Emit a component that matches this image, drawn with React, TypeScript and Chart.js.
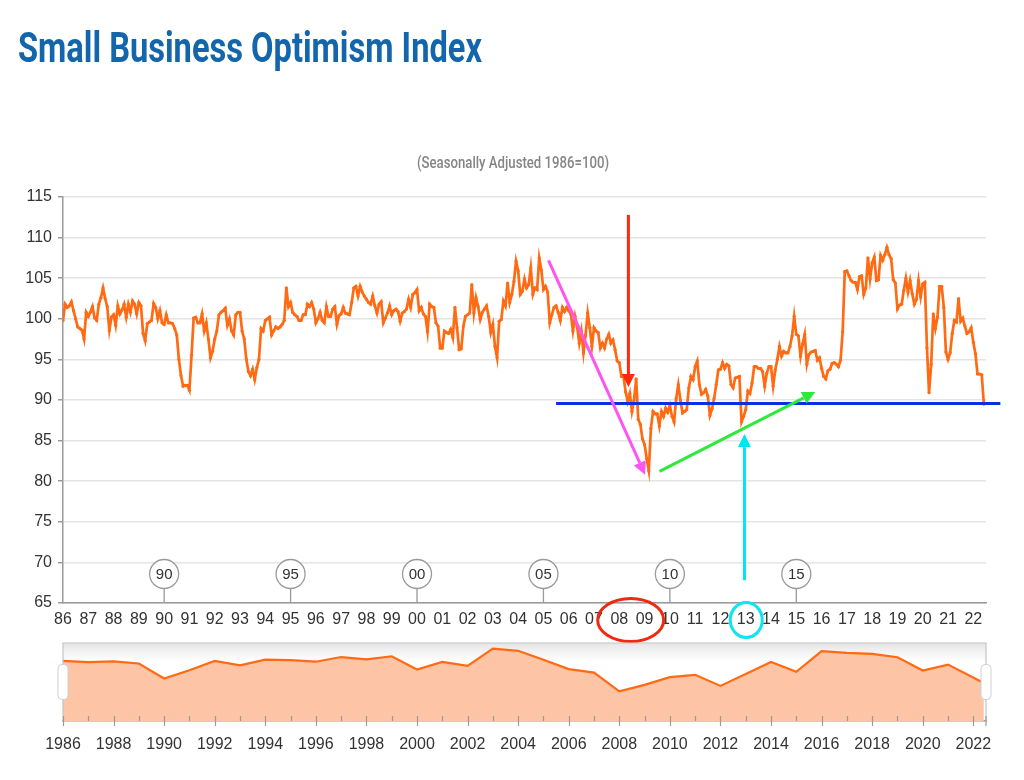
import React, { useEffect, useLayoutEffect, useRef } from "react";
import { Chart, registerables } from "chart.js";

Chart.register(...registerables);

// ---------------- data (monthly index values, seasonally adjusted, 1986=100) ----------------
const startYear = 1986;

// Jan 1986 - Dec 1995
const values1986to1995 = [
  99.8, 101.8, 101.4, 101.6, 102.1, 101.0, 100.0, 99.0, 98.8, 98.6, 97.5, 100.8,
  100.3, 100.8, 101.5, 100.1, 99.8, 101.8, 102.6, 103.8, 102.5, 101.5, 98.6, 100.2,
  100.5, 99.2, 101.6, 100.6, 101.1, 101.8, 100.2, 101.8, 100.8, 102.2, 101.8, 100.6,
  102.0, 101.6, 98.2, 97.3, 99.4, 99.6, 99.8, 101.9, 101.4, 100.0, 101.0, 99.5,
  99.3, 100.5, 99.5, 99.5, 99.4, 98.8, 98.0, 95.0, 93.0, 91.7, 91.8, 91.8,
  91.2, 95.5, 100.1, 100.2, 99.5, 99.5, 100.6, 98.5, 99.5, 97.5, 95.2, 96.0,
  97.5, 98.5, 100.5, 100.8, 101.0, 101.3, 99.2, 100.0, 98.5, 98.0, 100.5, 100.8,
  100.8, 98.5, 97.5, 95.0, 93.5, 93.0, 93.8, 92.5, 94.0, 95.0, 98.8, 98.5,
  99.8, 100.0, 100.2, 98.0, 98.5, 99.0, 98.8, 99.0, 99.3, 99.8, 103.8, 101.5,
  102.0, 100.8, 100.5, 100.3, 99.8, 99.8, 100.5, 100.5, 101.8, 101.5, 102.0, 101.2,
];

// Jan 1996 - Dec 2005
const values1996to2005 = [
  99.5, 100.0, 100.8, 99.8, 99.5, 101.5, 100.3, 100.3, 101.2, 101.5, 99.3, 100.4,
  100.6, 101.4, 100.7, 100.6, 100.5, 102.0, 103.8, 104.0, 102.8, 104.0, 103.3, 102.8,
  102.4, 102.0, 101.8, 102.8, 101.6, 100.7, 101.8, 102.1, 99.5, 100.1, 100.7, 101.6,
  100.5, 101.0, 101.2, 100.9, 99.7, 100.7, 100.9, 101.2, 102.4, 101.4, 103.0, 103.2,
  103.6, 101.0, 101.4, 100.6, 100.3, 98.4, 101.8, 101.5, 101.4, 99.5, 99.1, 96.4,
  96.4, 98.5, 98.3, 98.2, 98.7, 97.7, 101.4, 98.9, 96.2, 96.3, 99.1, 100.3,
  100.5, 100.7, 104.2, 100.7, 102.6, 101.5, 99.9, 100.8, 101.2, 101.6, 100.3, 98.3,
  99.3, 96.6, 95.2, 99.7, 99.9, 102.2, 101.6, 104.4, 102.0, 103.0, 104.6, 107.1,
  105.9, 103.0, 103.4, 104.9, 103.8, 104.2, 106.3, 103.0, 103.8, 103.6, 107.5, 106.0,
  103.6, 104.0, 103.3, 99.5, 100.5, 101.4, 101.6, 100.8, 99.8, 101.4, 100.9, 101.4,
];

// Jan 2006 - Dec 2015
const values2006to2015 = [
  101.0, 100.6, 98.5, 100.3, 99.0, 97.0, 98.5, 95.8, 98.0, 100.7, 98.9, 96.6,
  98.9, 98.5, 98.3, 96.4, 97.0, 96.4, 97.5, 98.1, 97.0, 97.4, 96.2, 94.8,
  94.6, 92.9, 92.9, 91.0, 89.8, 90.8, 88.6, 90.0, 92.6, 87.6, 87.0, 85.2,
  84.5, 82.8, 81.3, 86.5, 88.6, 88.3, 88.3, 86.8, 88.6, 88.0, 89.0, 88.5,
  89.3, 88.0, 87.3, 90.2, 91.9, 90.0, 88.4, 88.6, 88.8, 91.5, 92.9, 92.5,
  94.1, 94.8, 91.9, 90.7, 90.9, 91.3, 90.5, 88.1, 88.9, 90.2, 91.9, 93.7,
  93.8, 94.6, 93.9, 94.4, 94.2, 91.9, 91.5, 92.7, 92.8, 92.9, 87.3, 88.0,
  88.8, 91.1, 90.8, 92.1, 94.1, 94.1, 93.9, 93.9, 93.5, 91.7, 93.3, 94.1,
  94.1, 91.7, 93.7, 95.0, 96.6, 95.4, 96.0, 95.8, 95.8, 96.6, 97.9, 100.3,
  98.1, 97.9, 95.4, 96.9, 98.1, 94.4, 95.6, 95.9, 96.0, 96.1, 94.9, 95.2,
];

// Jan 2016 - Jun 2022
const values2016to2022 = [
  93.9, 92.9, 92.6, 93.6, 93.8, 94.5, 94.6, 94.4, 94.1, 94.9, 98.4, 105.8,
  105.9, 105.3, 104.7, 104.5, 104.5, 103.6, 105.2, 105.3, 103.0, 103.8, 107.5, 104.9,
  106.9, 107.6, 104.7, 104.8, 107.8, 107.2, 107.9, 108.8, 107.9, 107.4, 104.8, 104.4,
  101.2, 101.7, 101.8, 103.5, 105.0, 103.3, 104.7, 103.1, 101.8, 102.4, 104.7, 102.7,
  104.3, 104.5, 96.4, 90.9, 94.4, 100.6, 98.8, 100.2, 104.0, 104.0, 101.4, 95.9,
  95.0, 95.8, 98.2, 99.8, 99.6, 102.5, 99.7, 100.1, 99.1, 98.2, 98.4, 98.9,
  97.1, 95.7, 93.2, 93.2, 93.1, 89.5,
];

// y axis range / ticks
const yMin = 65;
const yMax = 115;
const yStep = 5;

// flags sitting on the x axis
const flagYears = [1990, 1995, 2000, 2005, 2010, 2015];
const flagLabels = ["90", "95", "00", "05", "10", "15"];

// hand-drawn annotations, in data coordinates (year, index value)
const arrowNotes = [
  { x1: 2008.36, y1: 112.8, x2: 2008.36, y2: 91.6, color: "#ff2a0a" },
  { x1: 2005.2, y1: 107.2, x2: 2009.02, y2: 80.8, color: "#ff55f0" },
  { x1: 2009.59, y1: 81.2, x2: 2015.75, y2: 91.0, color: "#2ee83c" },
  { x1: 2012.95, y1: 67.8, x2: 2012.95, y2: 85.8, color: "#00e6f0" },
];
const supportLevel = { from: 2005.5, to: 2023.07, value: 89.57, color: "#0a2fe0" };
const circledYears = [
  { year: 2008.45, rx: 33, ry: 21.5, color: "#f02a10" },
  { year: 2013.02, rx: 16, ry: 17.5, color: "#10e4f0" },
];

// ---------------- derived tables for the library ----------------
const monthly = [...values1986to1995, ...values1996to2005, ...values2006to2015, ...values2016to2022];
const points = monthly.map((v, i) => ({ x: startYear + i / 12, y: v }));
const lastX = startYear + (monthly.length - 1) / 12;
const endYear = Math.floor(lastX);
const xMax = lastX + 0.085;
const yearTicks: number[] = [];
for (let yr = startYear; yr <= endYear; yr++) yearTicks.push(yr);

// navigator: year-end close plotted at each year, then the latest value
const navPoints: { x: number; y: number }[] = [];
for (let yr = startYear; yr <= endYear; yr++) {
  const idx = (yr - startYear) * 12 + 11;
  if (idx < monthly.length) navPoints.push({ x: yr, y: monthly[idx] });
}
navPoints.push({ x: lastX, y: monthly[monthly.length - 1] });

const LINE = "#ff6a13";
const NAV_FILL = "#fdc4a6";
const AXIS = "#9a9a9a";
const FONT = '"Liberation Sans", Arial, Helvetica, sans-serif';

Chart.defaults.font.family = FONT;
Chart.defaults.color = "#333333";

function drawArrow(ctx: CanvasRenderingContext2D, x1: number, y1: number, x2: number, y2: number, color: string) {
  const headLen = 13;
  const headHalf = 6.5;
  const ang = Math.atan2(y2 - y1, x2 - x1);
  const bx = x2 - headLen * Math.cos(ang);
  const by = y2 - headLen * Math.sin(ang);
  ctx.strokeStyle = color;
  ctx.lineWidth = 3;
  ctx.lineCap = "butt";
  ctx.beginPath();
  ctx.moveTo(x1, y1);
  ctx.lineTo(bx, by);
  ctx.stroke();
  ctx.fillStyle = color;
  ctx.beginPath();
  ctx.moveTo(x2, y2);
  ctx.lineTo(bx + headHalf * Math.sin(ang), by - headHalf * Math.cos(ang));
  ctx.lineTo(bx - headHalf * Math.sin(ang), by + headHalf * Math.cos(ang));
  ctx.closePath();
  ctx.fill();
}

const mainOverlay = {
  id: "mainOverlay",
  afterDraw(chart: any) {
    const { ctx, chartArea, scales } = chart;
    const xs = scales.x;
    const ys = scales.y;
    ctx.save();

    // flags
    flagYears.forEach((yr, i) => {
      const px = xs.getPixelForValue(yr);
      const r = 14.5;
      const cy = chartArea.bottom - 29;
      ctx.strokeStyle = AXIS;
      ctx.lineWidth = 1.3;
      ctx.beginPath();
      ctx.moveTo(px, cy + r);
      ctx.lineTo(px, chartArea.bottom);
      ctx.stroke();
      ctx.beginPath();
      ctx.arc(px, cy, r, 0, Math.PI * 2);
      ctx.fillStyle = "#ffffff";
      ctx.fill();
      ctx.stroke();
      ctx.fillStyle = "#333333";
      ctx.font = `15px ${FONT}`;
      ctx.textAlign = "center";
      ctx.textBaseline = "middle";
      ctx.fillText(flagLabels[i], px, cy + 1);
    });

    // horizontal support level
    const ly = ys.getPixelForValue(supportLevel.value);
    ctx.strokeStyle = supportLevel.color;
    ctx.lineWidth = 3;
    ctx.beginPath();
    ctx.moveTo(xs.getPixelForValue(supportLevel.from), ly);
    ctx.lineTo(xs.getPixelForValue(supportLevel.to), ly);
    ctx.stroke();

    // arrows
    arrowNotes.forEach((a) => {
      drawArrow(
        ctx,
        xs.getPixelForValue(a.x1),
        ys.getPixelForValue(a.y1),
        xs.getPixelForValue(a.x2),
        ys.getPixelForValue(a.y2),
        a.color
      );
    });

    // circled axis labels
    circledYears.forEach((c) => {
      const cx = xs.getPixelForValue(c.year);
      const cy = xs.top + 17;
      ctx.strokeStyle = c.color;
      ctx.lineWidth = 3;
      ctx.beginPath();
      ctx.ellipse(cx, cy, c.rx, c.ry, 0, 0, Math.PI * 2);
      ctx.stroke();
    });

    ctx.restore();
  },
};

function roundRect(ctx: CanvasRenderingContext2D, x: number, y: number, w: number, h: number, r: number) {
  ctx.beginPath();
  ctx.moveTo(x + r, y);
  ctx.lineTo(x + w - r, y);
  ctx.quadraticCurveTo(x + w, y, x + w, y + r);
  ctx.lineTo(x + w, y + h - r);
  ctx.quadraticCurveTo(x + w, y + h, x + w - r, y + h);
  ctx.lineTo(x + r, y + h);
  ctx.quadraticCurveTo(x, y + h, x, y + h - r);
  ctx.lineTo(x, y + r);
  ctx.quadraticCurveTo(x, y, x + r, y);
  ctx.closePath();
}

const navOverlay = {
  id: "navOverlay",
  beforeDatasetsDraw(chart: any) {
    const { ctx, chartArea: a } = chart;
    ctx.save();
    const g = ctx.createLinearGradient(0, a.top, 0, a.top + 18);
    g.addColorStop(0, "#e6e6e6");
    g.addColorStop(1, "#ffffff");
    ctx.fillStyle = g;
    ctx.fillRect(a.left, a.top, a.right - a.left, 18);
    ctx.restore();
  },
  afterDraw(chart: any) {
    const { ctx, chartArea: a, scales } = chart;
    const xs = scales.x;
    ctx.save();
    // outline
    ctx.strokeStyle = "#c4c4c4";
    ctx.lineWidth = 1.2;
    ctx.beginPath();
    ctx.moveTo(a.left, a.bottom);
    ctx.lineTo(a.left, a.top);
    ctx.lineTo(a.right, a.top);
    ctx.lineTo(a.right, a.bottom);
    ctx.stroke();
    // year ticks
    ctx.strokeStyle = AXIS;
    ctx.lineWidth = 1.2;
    yearTicks.forEach((yr) => {
      const px = Math.round(xs.getPixelForValue(yr)) + 0.5;
      ctx.beginPath();
      ctx.moveTo(px, a.bottom - 5);
      ctx.lineTo(px, a.bottom + ((yr - startYear) % 2 === 0 ? 5 : 0));
      ctx.stroke();
    });
    ctx.beginPath();
    ctx.moveTo(a.right, a.bottom - 5);
    ctx.lineTo(a.right, a.bottom + 5);
    ctx.stroke();
    // handles
    const hw = 10;
    const hh = 35;
    const cy = (a.top + a.bottom) / 2;
    [a.left, a.right].forEach((hx) => {
      roundRect(ctx, hx - hw / 2, cy - hh / 2, hw, hh, 4);
      ctx.fillStyle = "#ffffff";
      ctx.fill();
      ctx.strokeStyle = "#d0d0d0";
      ctx.lineWidth = 1;
      ctx.stroke();
    });
    ctx.restore();
  },
};

function FittedText(props: { text: string; left: number; top: number; width: number; style: React.CSSProperties }) {
  const ref = useRef<HTMLSpanElement>(null);
  useLayoutEffect(() => {
    const el = ref.current;
    if (!el) return;
    el.style.transform = "none";
    const w = el.getBoundingClientRect().width;
    if (w > 0) el.style.transform = `scaleX(${props.width / w})`;
  }, [props.text, props.width]);
  return (
    <span
      ref={ref}
      style={{
        position: "absolute",
        left: props.left,
        top: props.top,
        whiteSpace: "nowrap",
        display: "inline-block",
        transformOrigin: "0 0",
        ...props.style,
      }}
    >
      {props.text}
    </span>
  );
}

export default function App() {
  const mainRef = useRef<HTMLCanvasElement>(null);
  const navRef = useRef<HTMLCanvasElement>(null);

  useEffect(() => {
    if (!mainRef.current || !navRef.current) return;

    const main = new Chart(mainRef.current, {
      type: "line",
      data: {
        datasets: [
          {
            data: points,
            borderColor: LINE,
            backgroundColor: LINE,
            borderWidth: 2.7,
            pointRadius: 1.6,
            pointBorderWidth: 0,
            pointHoverRadius: 0,
            tension: 0,
            fill: false,
          },
        ],
      },
      options: {
        responsive: false,
        animation: false,
        events: [],
        layout: { padding: { left: 0, top: 197, right: 38, bottom: 27 } },
        plugins: { legend: { display: false }, tooltip: { enabled: false } },
        scales: {
          x: {
            type: "linear",
            min: startYear,
            max: xMax,
            afterFit: (s: any) => {
              s.height = 30;
            },
            afterBuildTicks: (s: any) => {
              s.ticks = yearTicks.map((v) => ({ value: v }));
            },
            ticks: {
              autoSkip: false,
              maxRotation: 0,
              padding: 7,
              font: { size: 16 },
              color: "#333333",
              callback: (v: any) => String(Number(v) % 100).padStart(2, "0"),
            },
            grid: { display: false, drawTicks: false },
            border: { display: true, color: AXIS, width: 1.5 },
          },
          y: {
            min: yMin,
            max: yMax,
            afterFit: (s: any) => {
              s.width = 63;
            },
            ticks: { stepSize: yStep, padding: 6, font: { size: 16 }, color: "#333333" },
            grid: { color: "#e4e4e4", lineWidth: 1.5, tickColor: AXIS, tickLength: 5 },
            border: { display: true, color: AXIS, width: 1.5 },
          },
        },
      },
      plugins: [mainOverlay],
    } as any);

    const nav = new Chart(navRef.current, {
      type: "line",
      data: {
        datasets: [
          {
            data: navPoints,
            borderColor: LINE,
            backgroundColor: NAV_FILL,
            borderWidth: 2.2,
            pointRadius: 0,
            tension: 0,
            fill: "start",
          },
        ],
      },
      options: {
        responsive: false,
        animation: false,
        events: [],
        layout: { padding: { left: 63, top: 13, right: 38, bottom: 29 } },
        plugins: { legend: { display: false }, tooltip: { enabled: false } },
        scales: {
          x: {
            type: "linear",
            min: startYear,
            max: xMax,
            afterFit: (s: any) => {
              s.height = 30;
            },
            afterBuildTicks: (s: any) => {
              s.ticks = yearTicks.map((v) => ({ value: v }));
            },
            ticks: {
              autoSkip: false,
              maxRotation: 0,
              padding: 14,
              font: { size: 16 },
              color: "#333333",
              callback: (v: any) => ((Number(v) - startYear) % 2 === 0 ? String(v) : ""),
            },
            grid: { display: false, drawTicks: false },
            border: { display: true, color: AXIS, width: 1.5 },
          },
          y: { display: false, min: 70, max: 110 },
        },
      },
      plugins: [navOverlay],
    } as any);

    return () => {
      main.destroy();
      nav.destroy();
    };
  }, []);

  return (
    <div
      style={{
        position: "absolute",
        left: 0,
        top: 0,
        width: 1024,
        height: 780,
        background: "#ffffff",
        overflow: "hidden",
      }}
    >
      <canvas ref={mainRef} width={1024} height={660} style={{ position: "absolute", left: 0, top: 0, width: 1024, height: 660 }} />
      <canvas ref={navRef} width={1024} height={150} style={{ position: "absolute", left: 0, top: 630, width: 1024, height: 150 }} />
      <FittedText
        text="Small Business Optimism Index"
        left={18}
        top={26}
        width={464}
        style={{ fontFamily: "Roboto, 'Noto Sans', sans-serif", fontWeight: 700, fontSize: 43, lineHeight: "43px", color: "#1466ac" }}
      />
      <FittedText
        text="(Seasonally Adjusted 1986=100)"
        left={417}
        top={154}
        width={192}
        style={{ fontFamily: "Roboto, 'Noto Sans', sans-serif", fontWeight: 500, fontSize: 17, lineHeight: "17px", color: "#858585" }}
      />
    </div>
  );
}
